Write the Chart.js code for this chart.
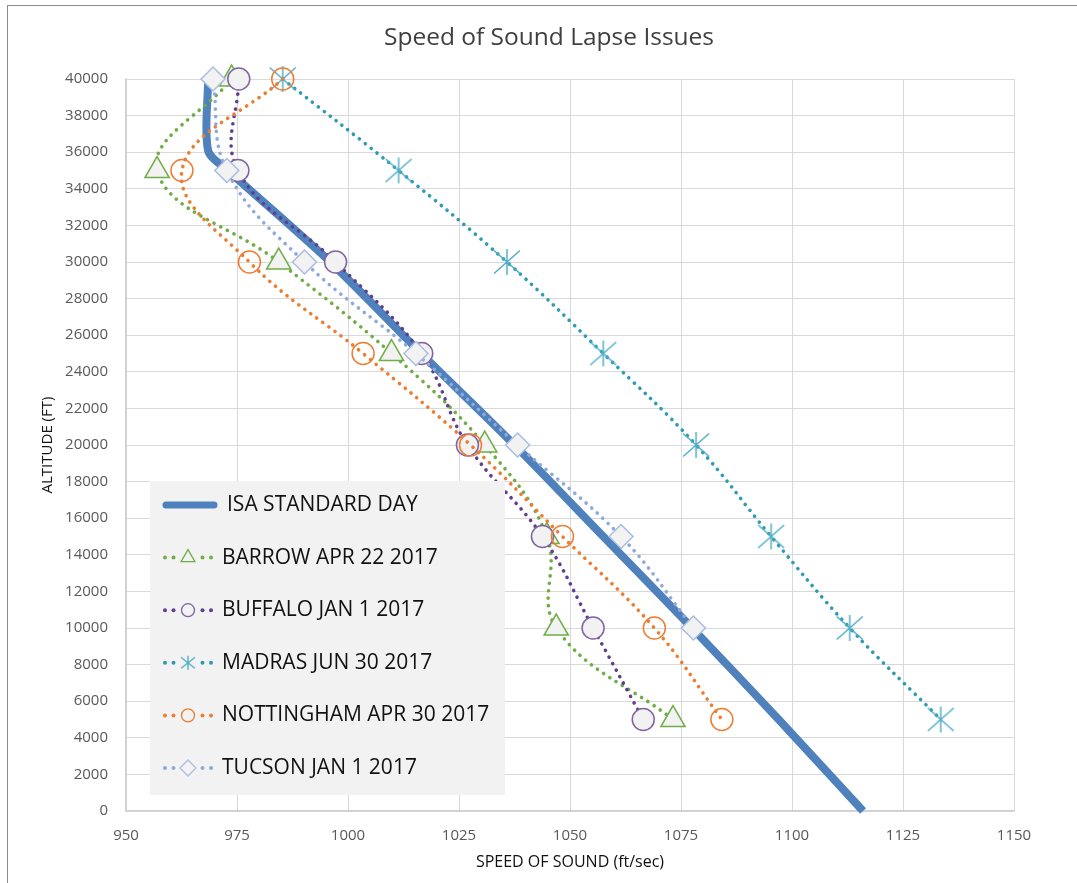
<!DOCTYPE html>
<html lang="en">
<head>
<meta charset="UTF-8">
<title>Speed of Sound Lapse Issues</title>
<style>
  html, body { margin: 0; padding: 0; background: #fff; overflow: hidden; }
  #wrap { position: relative; width: 1077px; height: 883px; }
  #frame { position: absolute; left: 7px; top: 5px; width: 1200px; height: 1000px; border: 1px solid #8c8c8c; }
  canvas { position: absolute; left: 0; top: 0; }
</style>
<script src="https://cdn.jsdelivr.net/npm/chart.js"></script>
</head>
<body>
<div id="wrap">
  <div id="frame"></div>
  <canvas id="chart" width="1077" height="883"></canvas>
</div>
<script>
// altitudes (ft) of the sounding points, top to bottom
const altitudes = [40000, 35000, 30000, 25000, 20000, 15000, 10000, 5000];

// ISA standard day
const isaAlt   = [0, 5000, 10000, 15000, 20000, 25000, 30000, 35000, 36089, 40000];
const isaSpeed = [1116, 1097, 1077.5, 1057.5, 1037.5, 1016.5, 996, 973, 968.5, 968.5];

// speed of sound (ft/sec) per station, same order as altitudes
const barrow     = [973.8, 957.0, 984.4, 1009.8, 1030.8, 1044.8, 1046.9, 1073.2];
const buffalo    = [975.4, 975.2, 997.2, 1016.6, 1026.9, 1043.8, 1055.2, 1066.5];
const madras     = [985.3, 1011.4, 1035.8, 1057.5, 1078.4, 1095.3, 1113.0, 1133.5];
const nottingham = [985.3, 962.6, 977.8, 1003.4, 1027.6, 1048.3, 1069.0, 1084.2];
const tucson     = [969.6, 972.7, 990.2, 1015.3, 1038.2, 1061.5, 1077.8];

const seriesNames = [
  "ISA STANDARD DAY",
  "BARROW APR 22 2017",
  "BUFFALO JAN 1 2017",
  "MADRAS JUN 30 2017",
  "NOTTINGHAM APR 30 2017",
  "TUCSON JAN 1 2017"
];

const xTicks = [950, 975, 1000, 1025, 1050, 1075, 1100, 1125, 1150];
const yTicks = [0, 2000, 4000, 6000, 8000, 10000, 12000, 14000, 16000, 18000, 20000,
                22000, 24000, 26000, 28000, 30000, 32000, 34000, 36000, 38000, 40000];

function toPoints(speeds, alts) {
  return speeds.map((s, i) => ({ x: s, y: alts[i] }));
}

function makeStar(size, color, lw) {
  const c = document.createElement("canvas");
  c.width = size; c.height = size;
  const g = c.getContext("2d");
  g.strokeStyle = color;
  g.lineWidth = lw;
  const m = size / 2, e = 1;
  g.beginPath();
  g.moveTo(m, e); g.lineTo(m, size - e);
  g.moveTo(e, e + 1.5); g.lineTo(size - e, size - e - 1.5);
  g.moveTo(size - e, e + 1.5); g.lineTo(e, size - e - 1.5);
  g.stroke();
  return c;
}

const starBig = makeStar(28, "#4bacc6", 1.4);
const starSmall = makeStar(16, "#4bacc6", 1.3);

function dotted(label, data, lineColor, markColor, style, radius, fill, order) {
  return {
    label: label,
    data: data,
    showLine: true,
    borderColor: lineColor,
    borderWidth: 3.6,
    borderDash: [0.1, 7.4],
    borderCapStyle: "round",
    tension: 0.4,
    pointStyle: style,
    pointRadius: radius,
    pointBorderColor: markColor,
    pointBackgroundColor: fill,
    pointBorderWidth: 1.5,
    clip: false,
    order: order
  };
}

const datasets = [
  {
    label: seriesNames[0],
    data: toPoints(isaSpeed, isaAlt),
    showLine: true,
    borderColor: "#4f81bd",
    borderWidth: 8,
    borderCapStyle: "butt",
    tension: 0.3,
    pointRadius: 0,
    clip: false,
    order: 10
  },
  dotted(seriesNames[1], toPoints(barrow, altitudes), "#70ad47", "#70ad47", "triangle", 14, "#f2f2f2", 5),
  dotted(seriesNames[2], toPoints(buffalo, altitudes), "#5f3f8f", "#8064a2", "circle", 11, "#f2f2f2", 4),
  dotted(seriesNames[3], toPoints(madras, altitudes), "#2f9bb3", "#4bacc6", starBig, 14, "#4bacc6", 3),
  dotted(seriesNames[4], toPoints(nottingham, altitudes), "#ed7d31", "#ed7d31", "circle", 11, "rgba(255,255,255,0)", 2),
  dotted(seriesNames[5], toPoints(tucson, altitudes), "#8eaadb", "#a9bde0", "rectRot", 12, "#f2f2f2", 1)
];

const legendMarks = [
  null,
  { style: "triangle", r: 8 },
  { style: "circle", r: 6.5 },
  { style: starSmall, r: 8 },
  { style: "circle", r: 6.5 },
  { style: "rectRot", r: 8 }
];

const boxLegend = {
  id: "boxLegend",
  afterDatasetsDraw(chart) {
    const ctx = chart.ctx;
    ctx.save();
    ctx.fillStyle = "#f2f2f2";
    ctx.fillRect(150, 481, 355, 314);
    ctx.font = '21px "Open Sans", sans-serif';
    ctx.textBaseline = "middle";
    ctx.textAlign = "left";
    chart.data.datasets.forEach((ds, i) => {
      const y = 505 + i * 52.6;
      if (i === 0) {
        ctx.strokeStyle = ds.borderColor;
        ctx.lineWidth = 7;
        ctx.lineCap = "round";
        ctx.beginPath();
        ctx.moveTo(166, y);
        ctx.lineTo(214, y);
        ctx.stroke();
        ctx.fillStyle = "#111";
        ctx.fillText(ds.label, 227, y);
        return;
      }
      ctx.fillStyle = ds.borderColor;
      [165, 173.5, 202.5, 211].forEach(x => {
        ctx.beginPath();
        ctx.arc(x, y, 2, 0, Math.PI * 2);
        ctx.fill();
      });
      const m = legendMarks[i];
      ctx.fillStyle = ds.pointBackgroundColor;
      ctx.strokeStyle = ds.pointBorderColor;
      ctx.lineWidth = 1.3;
      Chart.helpers.drawPoint(ctx, { pointStyle: m.style, radius: m.r, rotation: 0, borderWidth: 1.3 }, 188, y);
      ctx.fillStyle = "#111";
      ctx.fillText(ds.label, 222, y);
    });
    ctx.restore();
  },
  afterDraw(chart) {
    const ctx = chart.ctx;
    ctx.save();
    ctx.font = '24.5px "Open Sans", sans-serif';
    ctx.fillStyle = "#404040";
    ctx.textAlign = "center";
    ctx.textBaseline = "middle";
    ctx.fillText("Speed of Sound Lapse Issues", 549, 38);
    ctx.restore();
  }
};

Chart.defaults.font.family = '"Open Sans", sans-serif';

new Chart(document.getElementById("chart"), {
  type: "scatter",
  data: { datasets: datasets },
  plugins: [boxLegend],
  options: {
    responsive: false,
    animation: false,
    devicePixelRatio: 1,
    layout: { padding: { top: 79, right: 63, left: 0, bottom: 0 } },
    plugins: {
      legend: { display: false },
      title: { display: false },
      tooltip: { enabled: false }
    },
    scales: {
      x: {
        type: "linear",
        min: 950,
        max: 1150,
        afterBuildTicks: (s) => { s.ticks = xTicks.map(v => ({ value: v })); },
        afterFit: (s) => { s.height = 72; },
        grid: { color: "#d9d9d9", lineWidth: 1, drawTicks: false },
        border: { color: "#d0d0d0", width: 1.5 },
        ticks: { color: "#595959", font: { size: 15 }, padding: 16, maxRotation: 0, callback: (v) => String(v) },
        title: {
          display: true,
          text: "SPEED OF SOUND (ft/sec)",
          color: "#111",
          font: { size: 16 },
          padding: { top: 0, bottom: 11 }
        }
      },
      y: {
        type: "linear",
        min: 0,
        max: 40000,
        afterBuildTicks: (s) => { s.ticks = yTicks.map(v => ({ value: v })); },
        afterFit: (s) => { s.width = 126; },
        grid: { color: "#d9d9d9", lineWidth: 1, drawTicks: false },
        border: { color: "#d0d0d0", width: 1.5 },
        ticks: { color: "#595959", font: { size: 15 }, padding: 18, callback: (v) => String(v) },
        title: {
          display: true,
          text: "ALTITUDE (FT)",
          color: "#111",
          font: { size: 15 },
          padding: { top: 39, bottom: 0 }
        }
      }
    }
  }
});
</script>
</body>
</html>
